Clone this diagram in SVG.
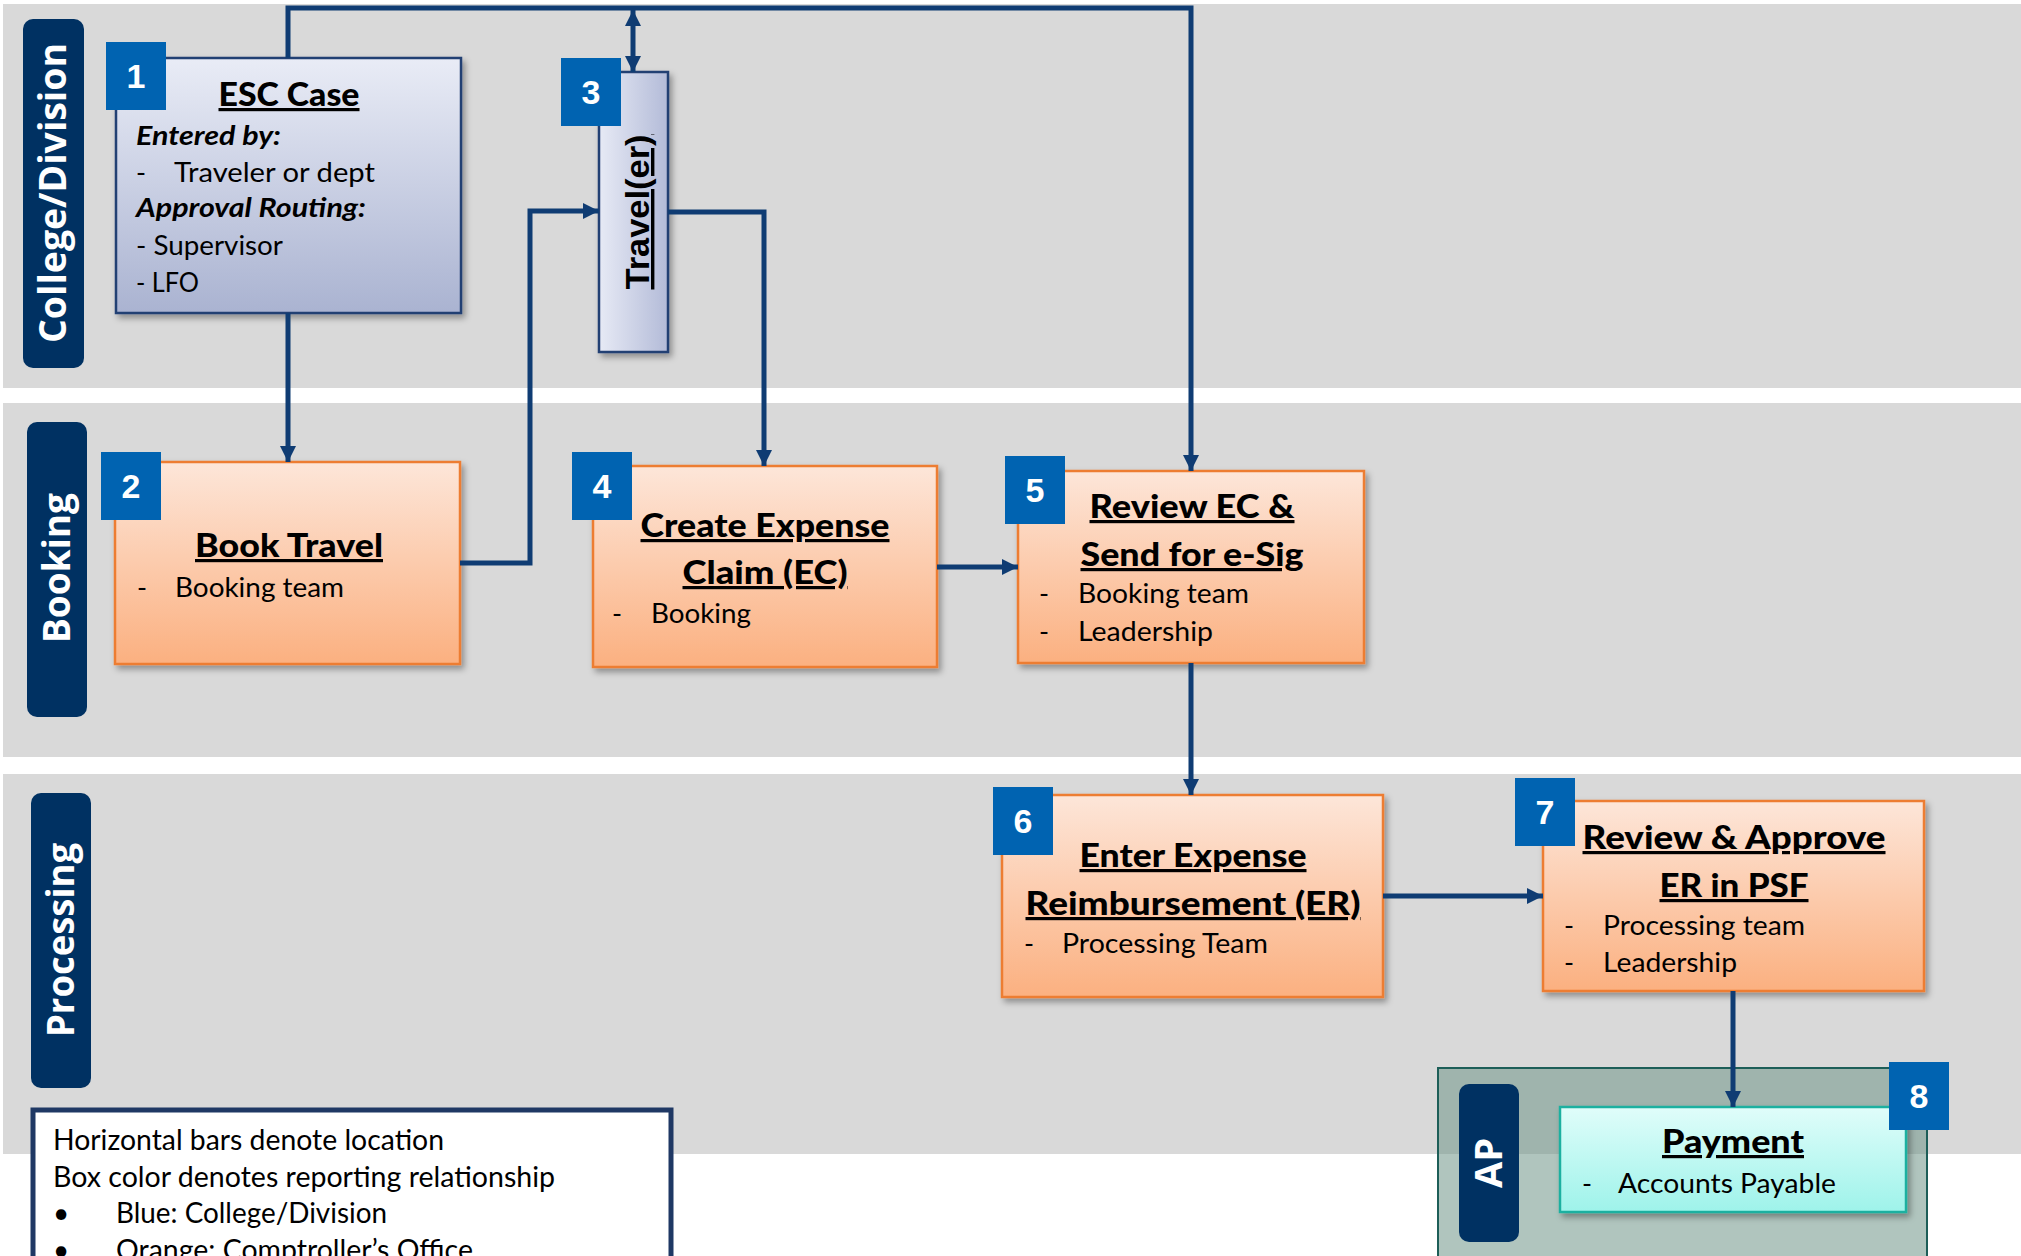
<svg xmlns="http://www.w3.org/2000/svg" width="2021" height="1256" viewBox="0 0 2021 1256">
<style>
.band{fill:#d9d9d9}
.lane{fill:#003162}
.lanet{font-family:"Open Sans","DejaVu Sans",sans-serif;font-weight:bold;font-size:37px;fill:#fff;text-anchor:middle}
.badge{fill:#0063b1}
.num{font-family:"Liberation Sans",Arial,sans-serif;font-weight:bold;font-size:34px;fill:#fff;text-anchor:middle}
.orange{fill:url(#gOrange);stroke:#ed7d31;stroke-width:2.5}
.blue{fill:url(#gBlue);stroke:#203f73;stroke-width:2.5}
.cyan{fill:url(#gCyan);stroke:#1fb0a0;stroke-width:2.5}
.title{font-family:Lato,"Liberation Sans",sans-serif;font-weight:900;font-size:32px;fill:#000;text-anchor:middle;text-decoration:underline}
.body{font-family:Lato,"Liberation Sans",sans-serif;font-size:27px;fill:#000}
.bi{font-family:Lato,"Liberation Sans",sans-serif;font-size:27px;font-weight:bold;font-style:italic;fill:#000}
.leg{font-family:Lato,"Liberation Sans",sans-serif;font-size:28px;fill:#000}
.conn{fill:none;stroke:#0f3c73;stroke-width:5}
</style>
<defs>
<linearGradient id="gOrange" x1="0" y1="0" x2="0" y2="1"><stop offset="0" stop-color="#fde6d9"/><stop offset="1" stop-color="#fbb080"/></linearGradient>
<linearGradient id="gBlue" x1="0" y1="0" x2="0" y2="1"><stop offset="0" stop-color="#e9ecf6"/><stop offset="1" stop-color="#aab3d1"/></linearGradient>
<linearGradient id="gBlueH" x1="0" y1="0" x2="1" y2="0"><stop offset="0" stop-color="#e7eaf5"/><stop offset="1" stop-color="#b3bbd8"/></linearGradient>
<linearGradient id="gCyan" x1="0" y1="0" x2="0" y2="1"><stop offset="0" stop-color="#e0fdfa"/><stop offset="1" stop-color="#9ef3ea"/></linearGradient>
<filter id="sh" x="-10%" y="-10%" width="130%" height="130%"><feDropShadow dx="3" dy="4" stdDeviation="3" flood-color="#000" flood-opacity="0.35"/></filter>
<marker id="arr" viewBox="0 0 16 16" markerWidth="16" markerHeight="16" refX="16" refY="8" orient="auto-start-reverse" markerUnits="userSpaceOnUse"><path d="M0,0 L16,8 L0,16 z" fill="#0f3c73"/></marker>
</defs>

<g id="bands">
<rect class="band" x="3" y="4" width="2018" height="384"/>
<rect class="band" x="3" y="403" width="2018" height="354"/>
<rect class="band" x="3" y="774" width="2018" height="380"/>
</g>

<g id="lane-college">
<rect class="lane" x="23" y="19" width="61" height="349" rx="10"/>
<text class="lanet" transform="translate(66,193) rotate(-90)" textLength="300" lengthAdjust="spacingAndGlyphs">College/Division</text>
</g>
<g id="lane-booking">
<rect class="lane" x="27" y="422" width="60" height="295" rx="10"/>
<text class="lanet" transform="translate(70,568) rotate(-90)" textLength="150" lengthAdjust="spacingAndGlyphs">Booking</text>
</g>
<g id="lane-processing">
<rect class="lane" x="31" y="793" width="60" height="295" rx="10"/>
<text class="lanet" transform="translate(74,940) rotate(-90)" textLength="194" lengthAdjust="spacingAndGlyphs">Processing</text>
</g>

<g id="ap-panel">
<rect x="1438" y="1068" width="489" height="200" fill="#709688" fill-opacity="0.55" stroke="#1d5e58" stroke-width="2"/>
<rect class="lane" x="1459" y="1084" width="60" height="158" rx="10"/>
<text class="lanet" transform="translate(1502,1163) rotate(-90)" textLength="50" lengthAdjust="spacingAndGlyphs">AP</text>
</g>

<g id="legend">
<rect x="33" y="1110" width="638" height="170" fill="#fff" stroke="#1f3864" stroke-width="5"/>
<text class="leg" x="53" y="1150" textLength="391" lengthAdjust="spacingAndGlyphs">Horizontal bars denote location</text>
<text class="leg" x="53" y="1187" textLength="502" lengthAdjust="spacingAndGlyphs">Box color denotes reporting relationship</text>
<text class="leg" x="53" y="1223" font-size="22">•</text>
<text class="leg" x="116" y="1223" textLength="271" lengthAdjust="spacingAndGlyphs">Blue: College/Division</text>
<text class="leg" x="53" y="1260" font-size="22">•</text>
<text class="leg" x="116" y="1260" textLength="357" lengthAdjust="spacingAndGlyphs">Orange: Comptroller’s Office</text>
</g>

<g id="node1">
<rect class="blue" x="116" y="58" width="345" height="255" filter="url(#sh)"/>
<text class="title" x="289" y="106" textLength="141" lengthAdjust="spacingAndGlyphs">ESC Case</text>
<text class="bi" x="136" y="145" textLength="145" lengthAdjust="spacingAndGlyphs">Entered by:</text>
<text class="body" x="136" y="182">-</text>
<text class="body" x="174" y="182" textLength="201" lengthAdjust="spacingAndGlyphs">Traveler or dept</text>
<text class="bi" x="136" y="217" textLength="230" lengthAdjust="spacingAndGlyphs">Approval Routing:</text>
<text class="body" x="136" y="255" textLength="147" lengthAdjust="spacingAndGlyphs">- Supervisor</text>
<text class="body" x="136" y="292" textLength="63" lengthAdjust="spacingAndGlyphs">- LFO</text>
<rect class="badge" x="106" y="42" width="60" height="68"/>
<text class="num" x="136" y="88">1</text>
</g>

<g id="node2">
<rect class="orange" x="115" y="462" width="345" height="202" filter="url(#sh)"/>
<text class="title" x="289" y="557" textLength="188" lengthAdjust="spacingAndGlyphs">Book Travel</text>
<text class="body" x="137" y="597">-</text>
<text class="body" x="175" y="597" textLength="169" lengthAdjust="spacingAndGlyphs">Booking team</text>
<rect class="badge" x="101" y="452" width="60" height="68"/>
<text class="num" x="131" y="498">2</text>
</g>

<g id="node3">
<rect x="599" y="72" width="69" height="280" fill="url(#gBlueH)" stroke="#203f73" stroke-width="2.5" filter="url(#sh)"/>
<text class="title" style="font-family:'Liberation Sans',Arial,sans-serif;font-weight:bold;font-size:34px" transform="translate(649,212) rotate(-90)" textLength="155" lengthAdjust="spacingAndGlyphs">Travel(er)</text>
<rect class="badge" x="561" y="58" width="60" height="68"/>
<text class="num" x="591" y="104">3</text>
</g>

<g id="node4">
<rect class="orange" x="593" y="466" width="344" height="201" filter="url(#sh)"/>
<text class="title" x="765" y="537" textLength="249" lengthAdjust="spacingAndGlyphs">Create Expense</text>
<text class="title" x="765" y="584" textLength="165" lengthAdjust="spacingAndGlyphs">Claim (EC)</text>
<text class="body" x="612" y="623">-</text>
<text class="body" x="651" y="623" textLength="100" lengthAdjust="spacingAndGlyphs">Booking</text>
<rect class="badge" x="572" y="452" width="60" height="68"/>
<text class="num" x="602" y="498">4</text>
</g>

<g id="node5">
<rect class="orange" x="1018" y="471" width="346" height="192" filter="url(#sh)"/>
<text class="title" x="1192" y="518" textLength="205" lengthAdjust="spacingAndGlyphs">Review EC &amp;</text>
<text class="title" x="1192" y="566" textLength="223" lengthAdjust="spacingAndGlyphs">Send for e-Sig</text>
<text class="body" x="1039" y="603">-</text>
<text class="body" x="1078" y="603" textLength="171" lengthAdjust="spacingAndGlyphs">Booking team</text>
<text class="body" x="1039" y="641">-</text>
<text class="body" x="1078" y="641" textLength="135" lengthAdjust="spacingAndGlyphs">Leadership</text>
<rect class="badge" x="1005" y="456" width="60" height="68"/>
<text class="num" x="1035" y="502">5</text>
</g>

<g id="node6">
<rect class="orange" x="1002" y="795" width="381" height="202" filter="url(#sh)"/>
<text class="title" x="1193" y="867" textLength="227" lengthAdjust="spacingAndGlyphs">Enter Expense</text>
<text class="title" x="1193" y="915" textLength="335" lengthAdjust="spacingAndGlyphs">Reimbursement (ER)</text>
<text class="body" x="1024" y="953">-</text>
<text class="body" x="1062" y="953" textLength="206" lengthAdjust="spacingAndGlyphs">Processing Team</text>
<rect class="badge" x="993" y="787" width="60" height="68"/>
<text class="num" x="1023" y="833">6</text>
</g>

<g id="node7">
<rect class="orange" x="1543" y="801" width="381" height="190" filter="url(#sh)"/>
<text class="title" x="1734" y="849" textLength="303" lengthAdjust="spacingAndGlyphs">Review &amp; Approve</text>
<text class="title" x="1734" y="897" textLength="149" lengthAdjust="spacingAndGlyphs">ER in PSF</text>
<text class="body" x="1564" y="935">-</text>
<text class="body" x="1603" y="935" textLength="202" lengthAdjust="spacingAndGlyphs">Processing team</text>
<text class="body" x="1564" y="972">-</text>
<text class="body" x="1603" y="972" textLength="134" lengthAdjust="spacingAndGlyphs">Leadership</text>
<rect class="badge" x="1515" y="778" width="60" height="68"/>
<text class="num" x="1545" y="824">7</text>
</g>

<g id="node8">
<rect class="cyan" x="1560" y="1107" width="346" height="105" filter="url(#sh)"/>
<text class="title" x="1733" y="1153" textLength="142" lengthAdjust="spacingAndGlyphs">Payment</text>
<text class="body" x="1582" y="1193">-</text>
<text class="body" x="1618" y="1193" textLength="218" lengthAdjust="spacingAndGlyphs">Accounts Payable</text>
<rect class="badge" x="1889" y="1062" width="60" height="68"/>
<text class="num" x="1919" y="1108">8</text>
</g>

<g id="connectors">
<path class="conn" d="M288,58 V8 H1191 V471" marker-end="url(#arr)"/>
<path class="conn" d="M633,10 V72" marker-start="url(#arr)" marker-end="url(#arr)"/>
<path class="conn" d="M288,313 V462" marker-end="url(#arr)"/>
<path class="conn" d="M460,563 H530 V211 H599" marker-end="url(#arr)"/>
<path class="conn" d="M668,212 H764 V466" marker-end="url(#arr)"/>
<path class="conn" d="M937,567 H1018" marker-end="url(#arr)"/>
<path class="conn" d="M1191,663 V795" marker-end="url(#arr)"/>
<path class="conn" d="M1383,896 H1543" marker-end="url(#arr)"/>
<path class="conn" d="M1733,991 V1107" marker-end="url(#arr)"/>
</g>
</svg>
